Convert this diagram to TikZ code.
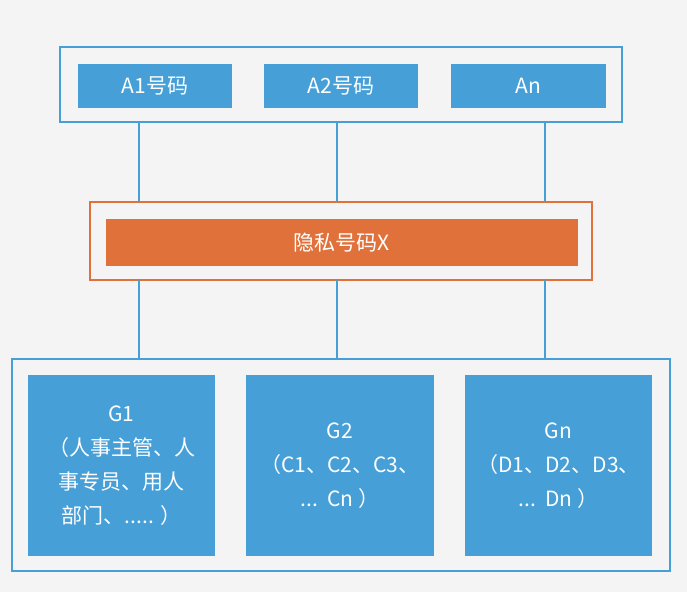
\documentclass[tikz,border=0pt]{standalone}
\usepackage{fontspec}
\setmainfont{Noto Sans CJK SC}
\definecolor{bl}{HTML}{469FD6}
\definecolor{orn}{HTML}{E1713A}
\definecolor{bg}{HTML}{F4F4F4}
\begin{document}
\begin{tikzpicture}[x=1pt,y=-1pt,
  frame/.style={draw=bl,line width=2.5pt,fill=none,inner sep=0,outer sep=0},
  ofr/.style={draw=orn,line width=2.5pt,fill=none,inner sep=0,outer sep=0},
  cell/.style={fill=bl,text=white,inner sep=0,outer sep=0,font=\fontsize{21}{34}\selectfont,align=center},
  ocell/.style={fill=orn,text=white,inner sep=0,outer sep=0,font=\fontsize{21}{34}\selectfont,align=center},
  link/.style={draw=bl,line width=2pt}]
\fill[bg] (0,0) rectangle (687,592);
\useasboundingbox (0,0) rectangle (687,592);
% top
\node[frame,minimum width=562,minimum height=75] (top) at (341,84.5) {};
\node[cell,minimum width=154,minimum height=44] (a1) at (155,86) {A1号码};
\node[cell,minimum width=154,minimum height=44] (a2) at (341,86) {A2号码};
\node[cell,minimum width=155,minimum height=44] (an) at (528.5,86) {An};
% middle
\node[ofr,minimum width=502,minimum height=78] (mid) at (341,241) {};
\node[ocell,minimum width=472,minimum height=47] (x) at (342,242.5) {隐私号码X};
% bottom
\node[frame,minimum width=658,minimum height=212] (bot) at (341,465) {};
\node[cell,minimum width=187,minimum height=181] (g1) at (121.5,465.5) {G1\\（人事主管、人\\事专员、用人\\部门、..... ）};
\node[cell,minimum width=188,minimum height=181] (g2) at (340,465.5) {G2\\（C1、C2、C3、\\...\ \ Cn ）};
\node[cell,minimum width=187,minimum height=181] (gn) at (558.5,465.5) {Gn\\（D1、D2、D3、\\...\ \ Dn ）};
% connectors
\coordinate (l1) at (139,0);
\coordinate (l2) at (337,0);
\coordinate (l3) at (545,0);
\foreach \l in {l1,l2,l3}{
  \draw[link] (top.south -| \l) -- (mid.north -| \l);
  \draw[link] (mid.south -| \l) -- (bot.north -| \l);
}
\end{tikzpicture}
\end{document}
